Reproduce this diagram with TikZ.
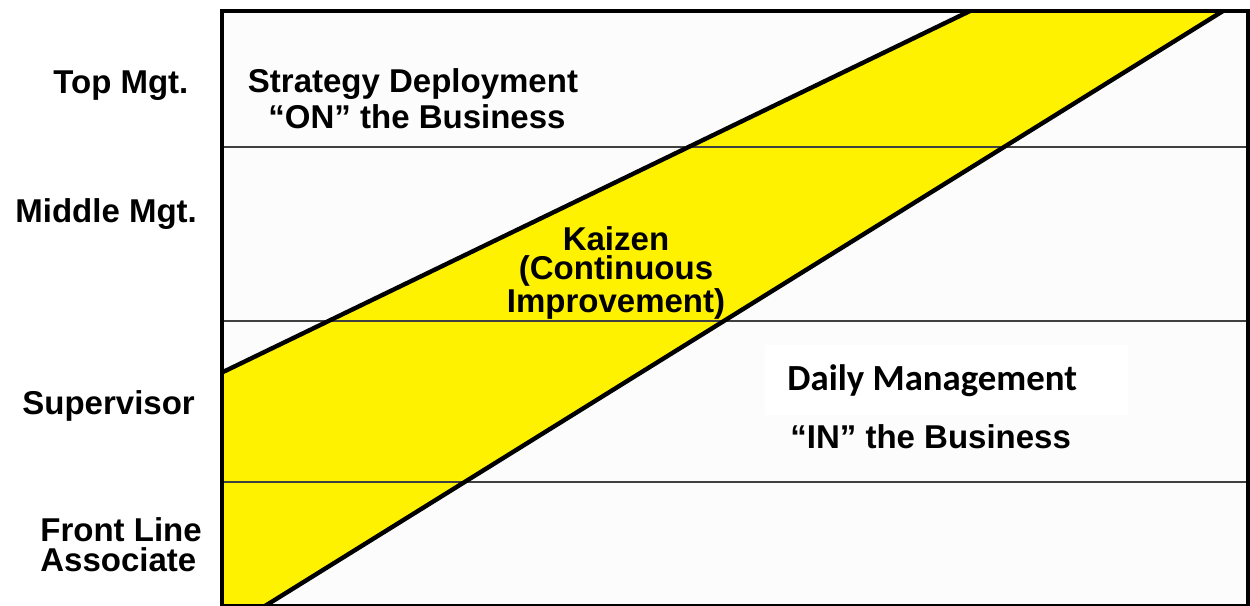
\documentclass[tikz,border=0pt]{standalone}
\usepackage{fontspec}
\setmainfont{Liberation Sans}
\newfontfamily\calibrifont{Carlito}
\begin{document}
\begin{tikzpicture}[x=0.5pt,y=-0.5pt,
  lbl/.style={font=\fontsize{16.5}{15}\selectfont\bfseries, inner sep=0pt},
  levelline/.style={line width=1pt, draw=black!75},
  bandedge/.style={line width=2.2pt, draw=black},
  frame/.style={line width=2pt, draw=black}]
  \useasboundingbox (0,0) rectangle (1250,606);
  \fill[white] (0,0) rectangle (1250,606);
  \begin{scope}
    \clip (0,0) rectangle (1250,606);
    % chart area
    \fill[black!1] (222,11) rectangle (1248,610);
    \fill[white] (765,345) rectangle (1128,415);
    % improvement band
    \coordinate (ul) at (223,372);
    \coordinate (ur) at (970,11);
    \coordinate (lr) at (1223,11);
    \coordinate (ll) at (265,606);
    \fill[yellow] (ul) -- (ur) -- (lr) -- (ll) -- (222,606) -- cycle;
    % management levels
    \coordinate (h1l) at (222,147); \coordinate (h1r) at (1248,147);
    \coordinate (h2l) at (222,321); \coordinate (h2r) at (1248,321);
    \coordinate (h3l) at (222,482); \coordinate (h3r) at (1248,482);
    \draw[levelline] (h1l) -- (h1r);
    \draw[levelline] (h2l) -- (h2r);
    \draw[levelline] (h3l) -- (h3r);
    \draw[bandedge] (ul) -- (ur);
    \draw[bandedge] (ll) -- (lr);
    % frame
    \draw[frame] (222,11) rectangle (1248,606);
  \end{scope}
  % level labels
  \node[lbl, anchor=base west] (top) at (53,93) {Top Mgt.};
  \node[lbl, anchor=base west] (middle) at (15,222) {Middle Mgt.};
  \node[lbl, anchor=base west] (sup) at (22,414) {Supervisor};
  \node[lbl, anchor=base west] (front) at (40,541) {Front Line};
  \node[lbl, anchor=base west] (assoc) at (40,571) {Associate};
  % region texts
  \node[lbl, anchor=base] (strat) at (413,92) {Strategy Deployment};
  \node[lbl, anchor=base] (on) at (417,128) {“ON” the Business};
  \node[lbl, align=center, font=\fontsize{16.5}{14.5}\selectfont\bfseries, anchor=north] (kaizen) at (616,226)
    {Kaizen\\(Continuous\\Improvement)};
  \node[font=\fontsize{18.4}{20}\calibrifont\bfseries, inner sep=0pt, anchor=base west] (daily) at (787,390) {Daily Management};
  \node[lbl, anchor=base west] (in) at (790,448) {“IN” the Business};
\end{tikzpicture}
\end{document}
